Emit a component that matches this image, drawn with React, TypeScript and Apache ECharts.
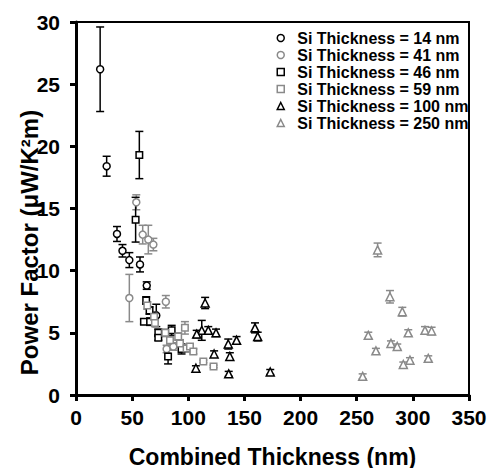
import React, { useEffect, useRef } from "react";
import * as echarts from "echarts";

const FONT = "'Liberation Sans', Arial, Helvetica, sans-serif";

const seriesNames = [
  "Si Thickness = 14 nm",
  "Si Thickness = 41 nm",
  "Si Thickness = 46 nm",
  "Si Thickness = 59 nm",
  "Si Thickness = 100 nm",
  "Si Thickness = 250 nm",
];
const seriesColors = ["#000000", "#8a8a8a", "#000000", "#8a8a8a", "#000000", "#8a8a8a"];
const seriesSymbols = ["circle", "circle", "rect", "rect", "triangle", "triangle"];
const seriesSymbolSizes = [7, 7, 6.5, 6.5, 8, 8];

// Si 14 nm (black circles)
const x14 = [21.5, 27.3, 36.5, 41.4, 47.5, 57, 63, 71.5];
const y14 = [26.2, 18.4, 12.95, 11.6, 10.85, 10.5, 8.8, 6.4];
const e14 = [3.4, 0.8, 0.6, 0.5, 0.6, 0.6, 0.3, 0.9];

// Si 41 nm (gray circles)
const x41 = [47.5, 53.7, 59.4, 64.4, 68.9, 80, 80.7, 86.7];
const y41 = [7.8, 15.5, 12.9, 12.5, 12.1, 7.5, 3.7, 3.9];
const e41 = [1.9, 0.6, 0.75, 1.15, 0.5, 0.5, 0.3, 0.3];

// Si 46 nm (black squares)
const x46 = [56.4, 53.1, 62.5, 65.5, 60.5, 66, 73.3, 73.3, 85.2, 82, 94];
const y46 = [19.3, 14.1, 7.6, 6.8, 5.9, 5.9, 5.0, 4.6, 5.2, 3.1, 3.7];
const e46 = [1.9, 1.8, 0.3, 0.3, 0.2, 0.3, 0.3, 0.2, 0.4, 0.6, 0.4];

// Si 59 nm (gray squares)
const x59 = [63.5, 69.5, 70.3, 79.5, 83.7, 91, 92.6, 97, 98.5, 101.5, 104.5, 113.4, 122.5];
const y59 = [7.2, 6.3, 5.8, 5.0, 4.4, 4.7, 4.15, 5.4, 3.75, 3.9, 3.5, 2.7, 2.3];
const e59 = [0.3, 0.4, 0.3, 0.3, 0.3, 0.3, 0.3, 0.5, 0.3, 0.2, 0.2, 0.1, 0.1];

// Si 100 nm (black triangles)
const x100 = [115, 112, 107.5, 117.8, 124.7, 106.8, 123, 135.6, 137, 143, 136, 159.4, 161.8, 173];
const y100 = [7.4, 5.2, 4.9, 5.2, 5.0, 2.15, 3.3, 4.1, 3.1, 4.4, 1.7, 5.4, 4.7, 1.85];
const e100 = [0.45, 0.8, 0.3, 0.3, 0.3, 0.2, 0.25, 0.4, 0.3, 0.3, 0.2, 0.4, 0.35, 0.2];

// Si 250 nm (gray triangles)
const x250 = [268.6, 279.6, 290.6, 260.3, 295.9, 310.8, 316.7, 280.5, 286.1, 267.1, 291.5, 297.4, 313.7, 255.3];
const y250 = [11.67, 7.9, 6.7, 4.8, 5.0, 5.2, 5.15, 4.15, 3.9, 3.55, 2.45, 2.8, 2.95, 1.5];
const e250 = [0.55, 0.5, 0.35, 0.25, 0.25, 0.3, 0.3, 0.2, 0.2, 0.2, 0.2, 0.2, 0.2, 0.2];

const groups = [
  [x14, y14, e14],
  [x41, y41, e41],
  [x46, y46, e46],
  [x59, y59, e59],
  [x100, y100, e100],
  [x250, y250, e250],
];

const xTicksMin = 0;
const xTicksMax = 350;
const xTickStep = 50;
const yTicksMin = 0;
const yTicksMax = 30;
const yTickStep = 5;

export default function App() {
  const ref = useRef<HTMLDivElement>(null);

  useEffect(() => {
    if (!ref.current) return;
    const chart = echarts.init(ref.current, null, { renderer: "svg" });

    const series: any[] = [];
    groups.forEach((g, i) => {
      const [xs, ys, es] = g;
      const color = seriesColors[i];
      series.push({
        name: seriesNames[i] + " error",
        type: "custom",
        z: 2,
        encode: { x: 0, y: [1, 2] },
        data: xs.map((x, k) => [x, ys[k] - es[k], ys[k] + es[k]]),
        renderItem: (_params: any, api: any) => {
          const x = api.value(0);
          const lo = api.coord([x, api.value(1)]);
          const hi = api.coord([x, api.value(2)]);
          const hw = 4;
          const style = { stroke: color, lineWidth: 1.5, fill: null };
          return {
            type: "group",
            children: [
              { type: "line", shape: { x1: hi[0], y1: hi[1], x2: lo[0], y2: lo[1] }, style },
              { type: "line", shape: { x1: hi[0] - hw, y1: hi[1], x2: hi[0] + hw, y2: hi[1] }, style },
              { type: "line", shape: { x1: lo[0] - hw, y1: lo[1], x2: lo[0] + hw, y2: lo[1] }, style },
            ],
          };
        },
      });
      series.push({
        name: seriesNames[i],
        type: "scatter",
        z: 3,
        symbol: seriesSymbols[i],
        symbolSize: seriesSymbolSizes[i],
        itemStyle: { color: "#ffffff", borderColor: color, borderWidth: 1.5, opacity: 1 },
        data: xs.map((x, k) => [x, ys[k]]),
      });
    });

    chart.setOption({
      animation: false,
      backgroundColor: "#ffffff",
      textStyle: { fontFamily: FONT },
      grid: {
        left: 76,
        right: 23,
        top: 22,
        bottom: 73,
        show: true,
        containLabel: false,
        outerBoundsMode: "none",
        borderColor: "#000",
        borderWidth: 2,
        backgroundColor: "transparent",
      },
      legend: {
        orient: "vertical",
        left: 271.5,
        top: 25,
        itemWidth: 7,
        itemHeight: 7,
        itemGap: 1,
        symbolKeepAspect: true,
        selectedMode: false,
        textStyle: {
          fontSize: 16,
          fontWeight: "bold",
          color: "#000",
          fontFamily: FONT,
          lineHeight: 16,
          padding: [0, 0, 0, 8],
        },
        data: seriesNames.map((n, i) => ({
          name: n,
          icon: seriesSymbols[i],
          itemStyle: { color: "#ffffff", borderColor: seriesColors[i], borderWidth: 1.5 },
        })),
      },
      xAxis: {
        type: "value",
        min: xTicksMin,
        max: xTicksMax,
        interval: xTickStep,
        name: "Combined Thickness (nm)",
        nameLocation: "middle",
        nameGap: 50,
        nameMoveOverlap: false,
        nameTextStyle: { fontSize: 23, fontWeight: "bold", color: "#000", fontFamily: FONT },
        axisLine: { show: true, lineStyle: { color: "#000", width: 3 } },
        axisTick: { show: true, length: 6, lineStyle: { color: "#000", width: 3 } },
        axisLabel: { fontSize: 21, fontWeight: "bold", color: "#000", margin: 12, fontFamily: FONT },
        splitLine: { show: false },
      },
      yAxis: {
        type: "value",
        min: yTicksMin,
        max: yTicksMax,
        interval: yTickStep,
        name: "Power Factor (μW/K²m)",
        nameLocation: "middle",
        nameGap: 35,
        nameMoveOverlap: false,
        nameTextStyle: { fontSize: 24, fontWeight: "bold", color: "#000", fontFamily: FONT, padding: [0, 68, 0, 0] },
        axisLine: { show: true, lineStyle: { color: "#000", width: 3 } },
        axisTick: { show: true, length: 6, lineStyle: { color: "#000", width: 3 } },
        axisLabel: { fontSize: 21, fontWeight: "bold", color: "#000", margin: 16, fontFamily: FONT },
        splitLine: { show: false },
      },
      series,
    });

    return () => chart.dispose();
  }, []);

  return (
    <div
      ref={ref}
      style={{ position: "fixed", left: 0, top: 0, width: 492, height: 468 }}
    />
  );
}
